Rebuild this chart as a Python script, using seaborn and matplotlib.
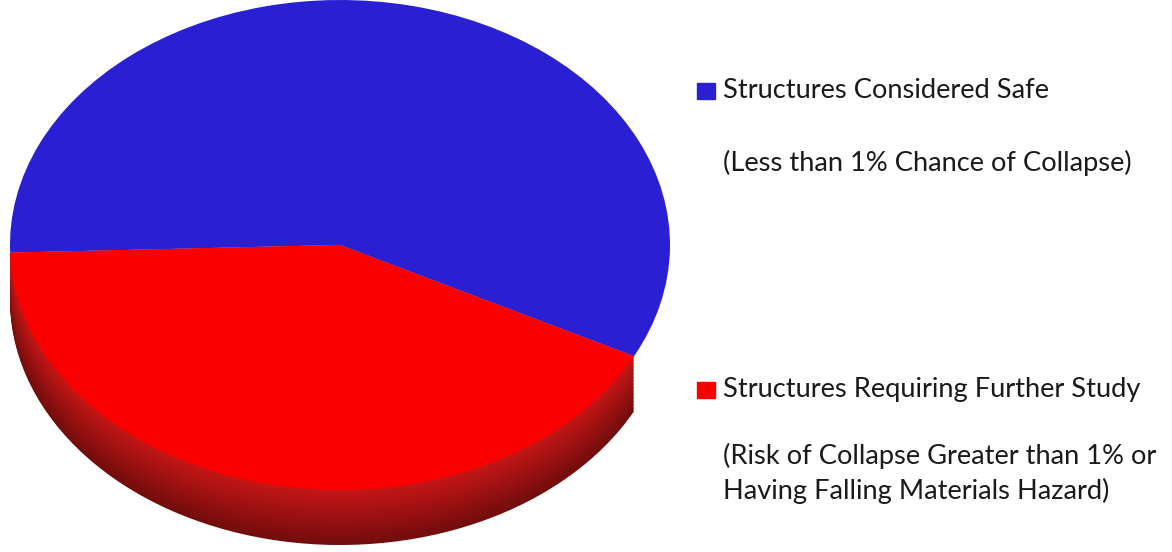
import numpy as np
import seaborn as sns
import matplotlib.pyplot as plt
from matplotlib.patches import Rectangle
from matplotlib.colors import to_rgb

sns.set_theme(style="white")
plt.rcParams['font.family'] = ['Lato', 'DejaVu Sans']

# data
categories = ["Structures Considered Safe", "Structures Requiring Further Study"]
notes = [["(Less than 1% Chance of Collapse)"],
         ["(Risk of Collapse Greater than 1% or", "Having Falling Materials Hazard)"]]
shares = [58, 42]
top_colors = ["#2a1fd2", "#fb0000"]
side_colors = [None, "#b81414"]   # blue side is hidden in the original

W, H = 1172, 552
fig = plt.figure(figsize=(W / 100, H / 100), dpi=100)

# pie axes over the left part, data units: rx=1 (330px), ry=1 (245px)
ax = fig.add_axes([0, 0, 690 / W, 1])
thick = 55 / 245
start = -27

# side of the disc: stacked copies shifted down, darker toward the bottom
n_layers = 40
for i, dz in enumerate(np.linspace(thick, 0, n_layers)):
    f = 0.62 + 0.45 * i / (n_layers - 1)
    cols = []
    for sc in side_colors:
        if sc is None:
            cols.append((1, 1, 1, 0))
        else:
            cols.append(tuple(min(1, c * f) for c in to_rgb(sc)))
    ax.pie(shares, colors=cols, startangle=start, counterclock=True,
           center=(0, -dz), radius=1, wedgeprops=dict(linewidth=0))

# top face
ax.pie(shares, colors=top_colors, startangle=start, counterclock=True,
       center=(0, 0), radius=1, wedgeprops=dict(linewidth=0))

ax.set_aspect('auto')
ax.set_xlim(-340 / 330, 350 / 330)
ax.set_ylim(-307 / 245, 1.0)
ax.axis('off')

# legend block
def fx(px):
    return px / W

def fy(py):
    return 1 - py / H

sq_y = [91, 390]
note_y = [[163], [456, 491]]
for k in range(2):
    fig.patches.append(Rectangle((fx(697), fy(sq_y[k] + 8)), 18 / W, 16 / H,
                                 transform=fig.transFigure, color=top_colors[k]))
    fig.text(fx(723), fy(sq_y[k]), categories[k], fontsize=19.6, color="#1a1a1a",
             va='center', ha='left')
    for line, y in zip(notes[k], note_y[k]):
        fig.text(fx(723), fy(y), line, fontsize=19.6, color="#1a1a1a",
                 va='center', ha='left')

fig.savefig("out.png", dpi=100)
